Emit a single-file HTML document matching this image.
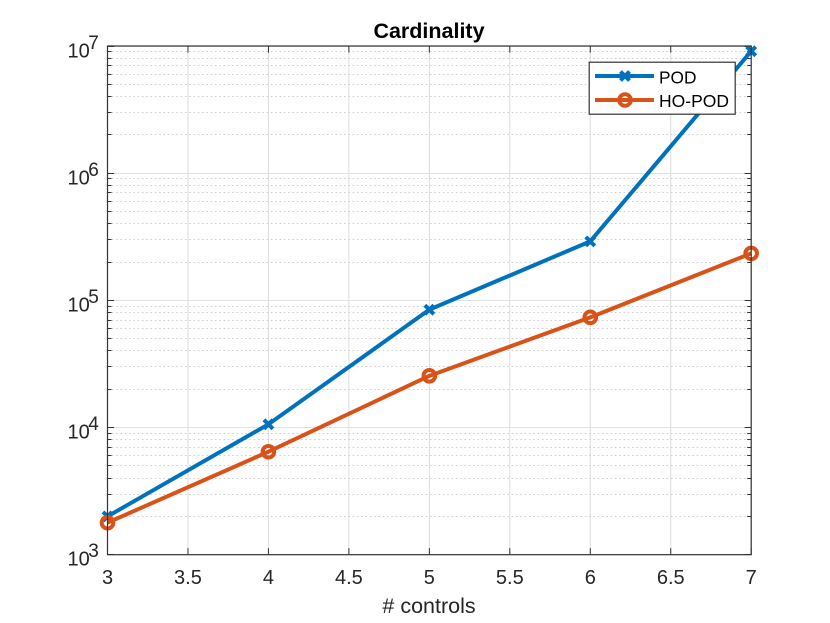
<!DOCTYPE html>
<html>
<head>
<meta charset="utf-8">
<style>
html,body{margin:0;padding:0;background:#fff;}
svg{display:block;font-family:"Liberation Sans",sans-serif;}
</style>
</head>
<body>
<svg id="chart" xmlns="http://www.w3.org/2000/svg" width="830" height="623" viewBox="0 0 830 623">
<rect x="0" y="0" width="830" height="623" fill="#ffffff"/>
<g id="grid"></g>
<g id="ticks"></g>
<g id="series"></g>
<rect x="107.5" y="46" width="643.7" height="508.7" fill="none" stroke="#333333" stroke-width="1.2"/>
<g id="labels"></g>
<text x="429" y="38" text-anchor="middle" font-size="21.5" font-weight="bold" fill="#000">Cardinality</text>
<text x="429" y="613" text-anchor="middle" font-size="21.5" fill="#262626"># controls</text>
<g id="legend">
<rect x="589.2" y="62.2" width="146" height="52" fill="#fff" stroke="#333333" stroke-width="1.2"/>
<line x1="595" x2="654" y1="76" y2="76" stroke="#0072BD" stroke-width="4"/>
<path d="M620.5 71.5L629.5 80.5M620.5 80.5L629.5 71.5" stroke="#0072BD" stroke-width="4" fill="none"/>
<text x="659" y="83.3" font-size="17.3" fill="#000">POD</text>
<line x1="595" x2="654" y1="100" y2="100" stroke="#D95319" stroke-width="4"/>
<circle cx="625" cy="100" r="5.8" fill="none" stroke="#D95319" stroke-width="4"/>
<text x="659" y="107" font-size="17.5" fill="#000">HO-POD</text>
</g>
</svg>
<script>
const categories = [3, 4, 5, 6, 7];
const podValues = [2000, 10600, 84500, 291000, 9100000];
const hoPodValues = [1785, 6450, 25500, 73500, 234000];
const xTickValues = [3, 3.5, 4, 4.5, 5, 5.5, 6, 6.5, 7];
const xTickLabels = ['3', '3.5', '4', '4.5', '5', '5.5', '6', '6.5', '7'];
const yDecades = [3, 4, 5, 6, 7];
const yMinorMultipliers = [2, 3, 4, 5, 6, 7, 8, 9];

const NS = 'http://www.w3.org/2000/svg';
const plot = {left: 107.5, right: 751.2, top: 46, bottom: 554.7};
const xMin = 3, xMax = 7, logMin = 3, logMax = 7;

function xScale(v) {
  return plot.left + (v - xMin) / (xMax - xMin) * (plot.right - plot.left);
}
function yScale(v) {
  return plot.bottom - (Math.log10(v) - logMin) / (logMax - logMin) * (plot.bottom - plot.top);
}
function make(tag, attrs, parent) {
  const el = document.createElementNS(NS, tag);
  for (const k in attrs) el.setAttribute(k, attrs[k]);
  parent.appendChild(el);
  return el;
}
function snap(v) {
  return Math.floor(v) + 0.5;
}

const gridG = document.getElementById('grid');
const ticksG = document.getElementById('ticks');
const labelsG = document.getElementById('labels');
const seriesG = document.getElementById('series');
const tickLen = 6.6;

xTickValues.forEach(function (v, i) {
  const x = xScale(v);
  const g = make('line', {x1: x, x2: x, y1: plot.top, y2: plot.bottom, stroke: '#dcdcdc', 'stroke-width': 1}, gridG);
  
  
  const t = make('path', {d: 'M' + x + ' ' + plot.bottom + 'v' + (-tickLen) + 'M' + x + ' ' + plot.top + 'v' + tickLen, stroke: '#333333', 'stroke-width': 1, fill: 'none'}, ticksG);
  
  
  const l = make('text', {x: x, y: 584, 'text-anchor': 'middle', 'font-size': 20, fill: '#262626'}, labelsG);
  
  
  l.textContent = xTickLabels[i];
});

yDecades.forEach(function (d) {
  const y = snap(yScale(Math.pow(10, d)));
  const g = make('line', {x1: plot.left, x2: plot.right, y1: y, y2: y, stroke: '#e2e2e2', 'stroke-width': 1}, gridG);
  
  
  const t = make('path', {d: 'M' + plot.left + ' ' + y + 'h' + tickLen + 'M' + plot.right + ' ' + y + 'h' + (-tickLen), stroke: '#333333', 'stroke-width': 1, fill: 'none'}, ticksG);
  
  
  const l = make('text', {x: 67.5, y: y + 11, 'font-size': 20, fill: '#262626'}, labelsG);
  
  
  l.textContent = '10';
  const s = make('tspan', {dx: -1.5, dy: -8.5, 'font-size': 19}, l);
  s.textContent = String(d);
  if (d < logMax) {
    yMinorMultipliers.forEach(function (m) {
      const my = snap(yScale(m * Math.pow(10, d)));
      const mg = make('line', {x1: plot.left, x2: plot.right, y1: my, y2: my, stroke: '#cfcfcf', 'stroke-width': 1, 'stroke-dasharray': '1.6 2.7'}, gridG);
      
      
      const mt = make('path', {d: 'M' + plot.left + ' ' + my + 'h4M' + plot.right + ' ' + my + 'h-4', stroke: '#333333', 'stroke-width': 1, fill: 'none'}, ticksG);
      
      
    });
  }
});

function polyPoints(values) {
  return values.map(function (v, i) {
    return xScale(categories[i]) + ',' + yScale(v);
  }).join(' ');
}

const podLine = make('polyline', {points: polyPoints(podValues), fill: 'none', stroke: '#0072BD', 'stroke-width': 4, 'stroke-linejoin': 'round'}, seriesG);


podValues.forEach(function (v, i) {
  const x = xScale(categories[i]), y = yScale(v), r = 4.5;
  const m = make('path', {d: 'M' + (x - r) + ' ' + (y - r) + 'L' + (x + r) + ' ' + (y + r) + 'M' + (x - r) + ' ' + (y + r) + 'L' + (x + r) + ' ' + (y - r), fill: 'none', stroke: '#0072BD', 'stroke-width': 4}, seriesG);
  
  
});

const hoLine = make('polyline', {points: polyPoints(hoPodValues), fill: 'none', stroke: '#D95319', 'stroke-width': 4, 'stroke-linejoin': 'round'}, seriesG);


hoPodValues.forEach(function (v, i) {
  const m = make('circle', {cx: xScale(categories[i]), cy: yScale(v), r: 5.8, fill: 'none', stroke: '#D95319', 'stroke-width': 4}, seriesG);
  
  
});
</script>
</body>
</html>
